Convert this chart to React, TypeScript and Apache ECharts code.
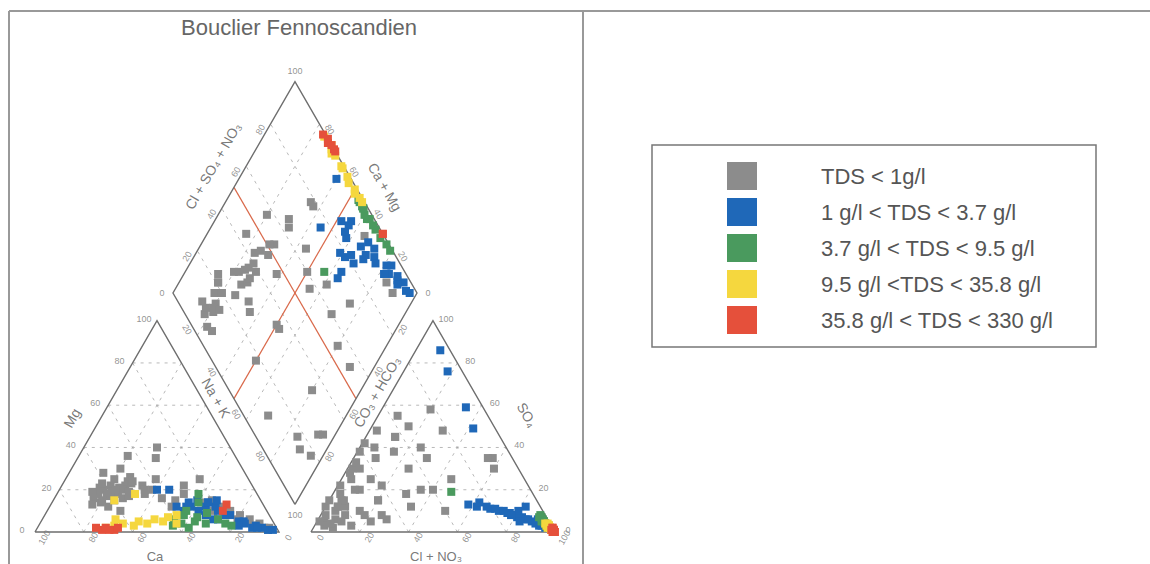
import React, { useEffect, useRef } from 'react';
import * as echarts from 'echarts';

const TITLE = 'Bouclier Fennoscandien';
const CLASS_NAMES = [
  'TDS < 1g/l',
  '1 g/l < TDS < 3.7 g/l',
  '3.7 g/l < TDS < 9.5 g/l',
  '9.5 g/l <TDS < 35.8 g/l',
  '35.8 g/l < TDS < 330 g/l',
];
const CLASS_COLORS = ['#8c8c8c', '#1f68b8', '#4a9a5e', '#f5d73e', '#e5503b'];
const TICKS = [0, 20, 40, 60, 80, 100];

// samples: [Ca %, Mg %, Cl + NO3 %, SO4 %]  (Na+K and CO3+HCO3 are the remainders)
const grayTDS = [
  [62, 20, 3, 5], [58, 22, 5, 10], [65, 18, 2, 8], [55, 25, 8, 12], [60, 15, 4, 3],
  [68, 16, 6, 15], [52, 22, 10, 20], [57, 18, 12, 25], [63, 21, 3, 18], [50, 24, 15, 10],
  [66, 14, 7, 6], [59, 19, 2, 30], [54, 20, 18, 22], [61, 23, 9, 35], [64, 12, 20, 15],
  [48, 26, 6, 40], [56, 16, 25, 8], [70, 13, 5, 12], [53, 17, 30, 18], [45, 22, 4, 25],
  [50, 30, 12, 45], [58, 28, 8, 2], [46, 18, 22, 5], [42, 20, 35, 12], [60, 10, 15, 38],
  [44, 36, 5, 15], [67, 19, 1, 22], [55, 21, 1, 42], [62, 17, 0, 12], [49, 23, 2, 33],
  [60, 18, 1, 5], [57, 20, 0, 15], [65, 15, 2, 28], [52, 19, 1, 38], [48, 24, 3, 48],
  [35, 15, 10, 8], [30, 18, 20, 15], [38, 12, 5, 30], [28, 22, 40, 20], [40, 16, 15, 50],
  [25, 14, 30, 35], [33, 35, 8, 55], [30, 40, 25, 40], [20, 25, 12, 45], [45, 20, 20, 58],
  [38, 25, 30, 48], [20, 15, 57, 35], [8, 3, 10, 5], [5, 2, 18, 8], [10, 5, 5, 12],
  [6, 4, 25, 30], [12, 8, 35, 20], [4, 1, 15, 3], [15, 10, 45, 25], [9, 6, 55, 35],
  [3, 2, 8, 20], [18, 12, 50, 10], [7, 3, 60, 30], [14, 6, 28, 6], [22, 10, 6, 4],
];
const blueTDS = [
  [24, 12, 62, 12], [28, 10, 68, 11], [22, 14, 72, 10], [30, 12, 74, 10], [20, 10, 77, 9],
  [26, 8, 80, 8], [32, 12, 81, 7], [34, 10, 83, 7], [18, 8, 85, 6], [22, 6, 88, 5],
  [14, 5, 90, 4], [8, 3, 92, 3], [12, 5, 93, 3], [6, 2, 95, 2], [20, 12, 86, 6],
  [30, 14, 76, 9], [26, 15, 66, 12], [24, 6, 83, 5], [4, 1, 90, 6], [16, 8, 80, 10],
  [10, 2, 10, 86], [8, 2, 18, 76], [12, 4, 34, 59], [15, 3, 42, 49], [35, 20, 62, 14],
  [40, 20, 82, 12], [2, 1, 93, 4], [22, 14, 58, 13], [36, 12, 78, 8], [18, 15, 70, 11],
];
const greenTDS = [
  [40, 6, 92, 6], [38, 4, 94, 4], [35, 8, 90, 8], [32, 5, 95, 3], [30, 7, 93, 5],
  [28, 4, 96, 2], [25, 9, 91, 7], [22, 6, 94, 4], [20, 4, 97, 2], [36, 2, 92, 5],
  [26, 14, 90, 7], [42, 3, 95, 3], [18, 3, 96, 3], [33, 10, 48, 19], [24, 18, 93, 5],
];
const yellowTDS = [
  [70, 2, 97, 2], [66, 3, 98, 1], [62, 4, 96, 3], [58, 3, 97, 2], [55, 5, 95, 4],
  [52, 4, 98, 1], [48, 6, 96, 2], [45, 5, 97, 2], [42, 7, 95, 3], [40, 4, 98, 1],
  [60, 15, 96, 3], [50, 18, 94, 4], [64, 6, 99, 1], [38, 8, 96, 3],
];
const redTDS = [
  [72, 1, 99, 1], [70, 2, 98, 1], [67, 1, 100, 0], [74, 2, 99, 0], [65, 2, 98, 2],
  [69, 1, 99, 1], [15, 13, 98, 2], [18, 10, 99, 1],
];
const CLASS_SAMPLES = [grayTDS, blueTDS, greenTDS, yellowTDS, redTDS];

// ---- geometry (diagram units: triangle side = 100) ----
const H = Math.sqrt(3) / 2;
const GAP = 13.1;
const PX = 2.44; // pixels per unit
const ORIGIN_X = 35;
const BASE_Y = 532;
const W = 1150;
const HGT = 564;
const A0 = 100 + GAP;
const BX = 100 + GAP / 2;
const BY = GAP * H;
const FONT = 'Liberation Sans, Arial, sans-serif';

const cat = (ca: number, mg: number) => [100 - ca - mg + mg / 2, mg * H];
const an = (cl: number, so4: number) => [A0 + cl + so4 / 2, so4 * H];
const dia = (c: number, a: number) => [BX + 50 * (a - c), BY + 100 * H * (a + c)];

function buildLines() {
  const outlines: any[] = [];
  const dashed: any[] = [];
  const red: any[] = [];
  outlines.push({ coords: [cat(100, 0), cat(0, 0), cat(0, 100), cat(100, 0)] });
  outlines.push({ coords: [an(0, 0), an(100, 0), an(0, 100), an(0, 0)] });
  outlines.push({ coords: [dia(0, 0), dia(0, 1), dia(1, 1), dia(1, 0), dia(0, 0)] });
  for (const v of [20, 40, 60, 80]) {
    dashed.push({ coords: [cat(100 - v, v), cat(0, v)] });
    dashed.push({ coords: [cat(100 - v, 0), cat(100 - v, v)] });
    dashed.push({ coords: [cat(100 - v, 0), cat(0, 100 - v)] });
    dashed.push({ coords: [an(0, v), an(100 - v, v)] });
    dashed.push({ coords: [an(v, 0), an(v, 100 - v)] });
    dashed.push({ coords: [an(100 - v, 0), an(0, 100 - v)] });
    dashed.push({ coords: [dia(v / 100, 0), dia(v / 100, 1)] });
    dashed.push({ coords: [dia(0, v / 100), dia(1, v / 100)] });
  }
  red.push({ coords: [dia(0.5, 0), dia(0.5, 1)] });
  red.push({ coords: [dia(0, 0.5), dia(1, 0.5)] });
  return { outlines, dashed, red };
}

function lbl(pos: number[], text: string, offset: number[], rotate = 0, fontSize = 9, color = '#777') {
  return {
    value: pos,
    label: { show: true, formatter: text, offset, rotate, fontSize, color, fontFamily: FONT },
  };
}

function buildLabels() {
  const out: any[] = [];
  for (const t of TICKS) {
    out.push(lbl(cat(t, 0), String(t), [0, 11], 60));
    out.push(lbl(cat(100 - t, t), String(t), [-13, -2]));
    out.push(lbl(an(t, 0), String(t), [0, 11], 60));
    out.push(lbl(an(100 - t, t), String(t), [13, -2]));
  }
  for (const t of [20, 40, 60, 80]) {
    out.push(lbl(dia(1, t / 100), String(t), [-10, -6], 60));
    out.push(lbl(dia(t / 100, 1), String(t), [10, -6], -60));
    out.push(lbl(dia(1 - t / 100, 0), String(t), [-10, 6], -60));
    out.push(lbl(dia(0, 1 - t / 100), String(t), [10, 6], 60));
  }
  out.push(lbl(dia(1, 0), '0', [-11, 0]));
  out.push(lbl(dia(1, 1), '100', [0, -11]));
  out.push(lbl(dia(0, 1), '0', [11, 0]));
  out.push(lbl(dia(0, 0), '100', [0, 11]));
  const f = (px: number, py: number) => [(px - ORIGIN_X) / PX, (BASE_Y - py) / PX];
  out.push(lbl(f(72, 418), 'Mg', [0, 0], 60, 14, '#555'));
  out.push(lbl(f(155, 556), 'Ca', [0, 0], 0, 13, '#555'));
  out.push(lbl(f(216, 398), 'Na + K', [0, 0], -60, 14, '#555'));
  out.push(lbl(f(213, 166), 'Cl + SO₄ + NO₃', [0, 0], 60, 14, '#555'));
  out.push(lbl(f(385, 187), 'Ca + Mg', [0, 0], -60, 14, '#555'));
  out.push(lbl(f(377, 392), 'CO₃ + HCO₃', [0, 0], 60, 14, '#555'));
  out.push(lbl(f(527, 415), 'SO₄', [0, 0], -60, 14, '#555'));
  out.push(lbl(f(436, 556), 'Cl + NO₃', [0, 0], 0, 13, '#555'));
  return out;
}

function samplePoints(samples: number[][]) {
  const pts: number[][] = [];
  for (const [ca, mg, cl, so4] of samples) {
    pts.push(cat(ca, mg));
    pts.push(an(cl, so4));
    pts.push(dia((ca + mg) / 100, (cl + so4) / 100));
  }
  return pts;
}

export default function App() {
  const ref = useRef<HTMLDivElement>(null);
  useEffect(() => {
    document.body.style.margin = '0';
    const chart = echarts.init(ref.current!, null, { renderer: 'svg' });
    const { outlines, dashed, red } = buildLines();
    const option: any = {
      animation: false,
      backgroundColor: '#fff',
      grid: { left: 0, right: 0, top: 0, bottom: 0 },
      xAxis: { type: 'value', min: -ORIGIN_X / PX, max: (W - ORIGIN_X) / PX, show: false },
      yAxis: { type: 'value', min: -(HGT - BASE_Y) / PX, max: BASE_Y / PX, show: false },
      legend: {
        data: CLASS_NAMES,
        orient: 'vertical',
        left: 722,
        top: 157,
        itemWidth: 30,
        itemHeight: 28,
        itemGap: 8,
        icon: 'rect',
        selectedMode: false,
        textStyle: { fontSize: 22, color: '#555', padding: [0, 0, 0, 59], fontFamily: FONT },
      },
      graphic: [
        { type: 'line', shape: { x1: 9, y1: 11, x2: 1150, y2: 11 }, style: { stroke: '#999', lineWidth: 2 } },
        { type: 'line', shape: { x1: 9, y1: 11, x2: 9, y2: 564 }, style: { stroke: '#999', lineWidth: 2 } },
        { type: 'line', shape: { x1: 583, y1: 11, x2: 583, y2: 564 }, style: { stroke: '#999', lineWidth: 2 } },
        { type: 'rect', shape: { x: 652, y: 145, width: 444, height: 202 }, style: { fill: 'none', stroke: '#777', lineWidth: 1.5 } },
        {
          type: 'text', x: 299, y: 27,
          style: { text: TITLE, fill: '#666', fontSize: 22, fontFamily: FONT, textAlign: 'center', textVerticalAlign: 'middle', align: 'center', verticalAlign: 'middle' },
        },
      ],
      series: [
        { type: 'lines', coordinateSystem: 'cartesian2d', polyline: true, silent: true, z: 1, lineStyle: { color: '#a6a6a6', width: 0.8, type: [3, 5], opacity: 1 }, data: dashed },
        { type: 'lines', coordinateSystem: 'cartesian2d', polyline: true, silent: true, z: 2, lineStyle: { color: '#d9694a', width: 1.2, opacity: 1 }, data: red },
        { type: 'lines', coordinateSystem: 'cartesian2d', polyline: true, silent: true, z: 2, lineStyle: { color: '#6e6e6e', width: 1.4, opacity: 1 }, data: outlines },
        ...CLASS_NAMES.map((name, i) => ({
          name, type: 'scatter', symbol: 'rect', symbolSize: 8, z: 3 + i, clip: false,
          itemStyle: { color: CLASS_COLORS[i], opacity: 1 },
          data: samplePoints(CLASS_SAMPLES[i]),
        })),
        { type: 'scatter', silent: true, symbolSize: 1, z: 10, itemStyle: { color: 'rgba(0,0,0,0)' }, label: { show: true, position: 'inside' }, data: buildLabels() },
      ],
    };
    chart.setOption(option);
    return () => chart.dispose();
  }, []);
  return <div ref={ref} style={{ width: 1150, height: 564 }} />;
}
